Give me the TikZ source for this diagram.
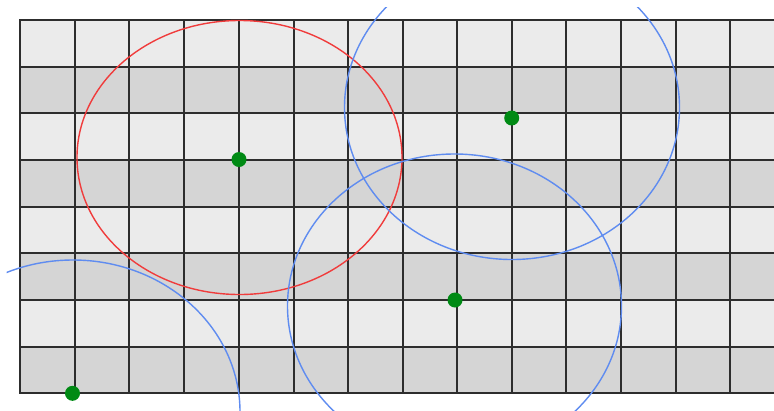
\documentclass[tikz,border=0pt]{standalone}
\definecolor{lightrow}{RGB}{235,235,235}
\definecolor{darkrow}{RGB}{213,213,213}
\definecolor{gridcol}{RGB}{45,45,45}
\definecolor{ringred}{RGB}{240,60,60}
\definecolor{ringblue}{RGB}{95,140,240}
\definecolor{dotgreen}{RGB}{0,138,20}
\begin{document}
\begin{tikzpicture}[x=1bp,y=-1bp,
  gridline/.style={draw=gridcol,line width=2bp},
  redring/.style={draw=ringred,line width=1.4bp},
  bluering/.style={draw=ringblue,line width=1.4bp},
  dot/.style={circle,fill=dotgreen,inner sep=0pt,minimum size=15bp}]
\useasboundingbox (0,0) rectangle (774,410);
\begin{scope}
\clip (6.5,7) rectangle (774,410);
\foreach \i in {0,2,4,6}
  \fill[lightrow] (20,{20+46.667*\i}) rectangle (790,{20+46.667*(\i+1)});
\foreach \i in {1,3,5,7}
  \fill[darkrow] (20,{20+46.667*\i}) rectangle (790,{20+46.667*(\i+1)});
\foreach \x in {20,75,129,184,239,294,348,403,457,512,566,621,676,730,785}
  \draw[gridline] (\x,20) -- (\x,393);
\foreach \y in {20,67,113,160,207,253,300,347,393}
  \draw[gridline] (19,\y) -- (790,\y);
\draw[redring] (239.5,157.5) ellipse [x radius=162.5bp, y radius=137bp];
\draw[bluering] (512,107.5) ellipse [x radius=167.5bp, y radius=152bp];
\draw[bluering] (454.5,306) ellipse [x radius=167bp, y radius=152bp];
\draw[bluering] (73,412) ellipse [x radius=167bp, y radius=152bp];
\end{scope}
\node[dot] (d1) at (239,159.5) {};
\node[dot] (d2) at (511.7,118) {};
\node[dot] (d3) at (455,300) {};
\node[dot] (d4) at (72.5,393.3) {};
\end{tikzpicture}
\end{document}
